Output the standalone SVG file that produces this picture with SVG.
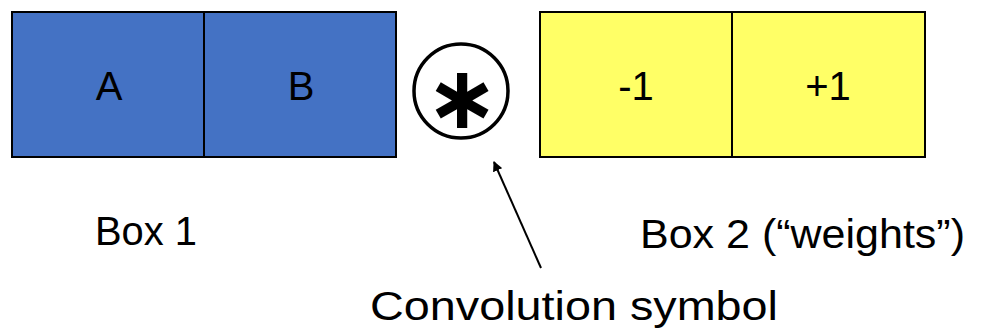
<svg xmlns="http://www.w3.org/2000/svg" width="982" height="331" viewBox="0 0 982 331">
<defs>
<style>
.blue{fill:#4472C4;stroke:#000;stroke-width:2}
.yel{fill:#FFFF66;stroke:#000;stroke-width:2}
.t{font-family:"Liberation Sans",Arial,sans-serif;font-size:40px;fill:#000}
.c{text-anchor:middle}
</style>
<marker id="ah" viewBox="0 0 10 10" refX="9" refY="5" markerWidth="5" markerHeight="5" orient="auto" markerUnits="strokeWidth">
<path d="M0,0 L10,5 L0,10 z" fill="#000"/>
</marker>
</defs>
<rect width="982" height="331" fill="#fff"/>
<g id="box1">
<rect class="blue" x="12" y="12" width="192" height="145"/>
<rect class="blue" x="204" y="12" width="192" height="145"/>
<text class="t c" x="109" y="100">A</text>
<text class="t c" x="301" y="100">B</text>
</g>
<g id="conv">
<circle cx="461" cy="91" r="47" fill="none" stroke="#000" stroke-width="3.5"/>
<text x="462" y="128" text-anchor="middle" style="font-family:'DejaVu Sans',sans-serif;font-weight:bold;font-size:88px">∗</text>
</g>
<g id="box2">
<rect class="yel" x="540" y="12" width="192" height="145"/>
<rect class="yel" x="732" y="12" width="193" height="145"/>
<text class="t c" x="636" y="100">-1</text>
<text class="t c" x="828" y="100">+1</text>
</g>
<g id="labels">
<text class="t" x="95" y="245" textLength="102" lengthAdjust="spacingAndGlyphs">Box 1</text>
<text class="t" x="640" y="248" textLength="325" lengthAdjust="spacingAndGlyphs">Box 2 (“weights”)</text>
<text class="t" x="370" y="320" textLength="408" lengthAdjust="spacingAndGlyphs">Convolution symbol</text>
</g>
<g id="connectors">
<line x1="541" y1="268" x2="494" y2="162" stroke="#000" stroke-width="2" marker-end="url(#ah)"/>
</g>
</svg>
